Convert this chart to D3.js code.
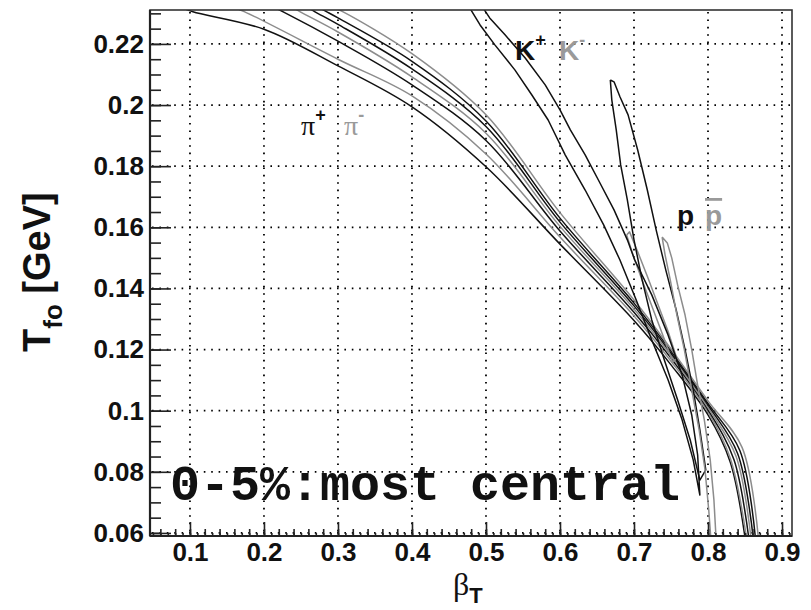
<!DOCTYPE html>
<html><head><meta charset="utf-8">
<script src="https://cdn.jsdelivr.net/npm/d3@7"></script>
<style>body{margin:0;background:#fff}svg{display:block}</style>
</head><body>
<svg id="chart" width="811" height="610"></svg>
<script>
// ---------- tick data ----------
const xTicks = [0.1,0.2,0.3,0.4,0.5,0.6,0.7,0.8,0.9];
const xTickLabels = ["0.1","0.2","0.3","0.4","0.5","0.6","0.7","0.8","0.9"];
const yTicks = [0.06,0.08,0.10,0.12,0.14,0.16,0.18,0.20,0.22];
const yTickLabels = ["0.06","0.08","0.1","0.12","0.14","0.16","0.18","0.2","0.22"];

// ---------- contour lines [beta_T, T_fo] ----------
const piLine1 = [[0.09,0.2318],[0.104,0.2305],[0.2,0.2248],[0.3,0.2128],[0.4,0.1994],[0.5,0.1798],[0.6,0.1545],[0.7,0.1295],[0.75,0.1150],[0.8,0.0986],[0.83,0.0832],[0.85,0.0585]];
const piLine2 = [[0.16,0.2318],[0.174,0.2305],[0.3,0.2150],[0.4,0.2030],[0.5,0.1840],[0.6,0.1568],[0.7,0.1310],[0.75,0.1162],[0.8,0.0995],[0.83,0.0845],[0.852,0.0585]];
const piLine3 = [[0.215,0.2318],[0.226,0.2305],[0.3,0.2209],[0.4,0.2066],[0.5,0.1884],[0.6,0.1588],[0.7,0.1322],[0.75,0.1172],[0.8,0.1003],[0.835,0.0840],[0.855,0.0585]];
const piLine4 = [[0.24,0.2318],[0.249,0.2305],[0.3,0.2239],[0.4,0.2092],[0.5,0.1908],[0.6,0.1603],[0.7,0.1333],[0.75,0.1180],[0.8,0.1010],[0.838,0.0850],[0.858,0.0585]];
const piLine5 = [[0.26,0.2318],[0.269,0.2305],[0.3,0.2264],[0.4,0.2118],[0.5,0.1930],[0.6,0.1617],[0.7,0.1343],[0.75,0.1188],[0.8,0.1018],[0.84,0.0860],[0.861,0.0585]];
const piLine6 = [[0.275,0.2318],[0.285,0.2305],[0.3,0.2285],[0.4,0.2143],[0.5,0.1948],[0.6,0.1630],[0.7,0.1352],[0.75,0.1195],[0.8,0.1024],[0.843,0.0870],[0.864,0.0585]];
const piLine7 = [[0.295,0.2318],[0.307,0.2305],[0.4,0.2168],[0.5,0.1968],[0.6,0.1648],[0.7,0.1362],[0.75,0.1202],[0.8,0.1032],[0.846,0.0880],[0.868,0.0585]];

const kPlusContour = [[0.478,0.2318],[0.492,0.2262],[0.512,0.2197],[0.539,0.2115],[0.562,0.2033],[0.584,0.1951],[0.607,0.1837],[0.634,0.1722],[0.659,0.1608],[0.681,0.1493],[0.703,0.1362],[0.724,0.1231],[0.746,0.1101],[0.765,0.0970],[0.780,0.0839],[0.789,0.0724],
  [0.786,0.0855],[0.778,0.0986],[0.765,0.1117],[0.746,0.1248],[0.724,0.1379],[0.701,0.1493],[0.691,0.1559],[0.673,0.1657],[0.654,0.1745],[0.634,0.1837],[0.614,0.1919],[0.600,0.1984],[0.580,0.2066],[0.553,0.2154],[0.526,0.2229],[0.505,0.2285],[0.496,0.2318]];
const kMinusContour = [[0.690,0.1575],[0.700,0.1500],[0.712,0.1420],[0.726,0.1330],[0.740,0.1240],[0.752,0.1160],[0.758,0.1170],[0.746,0.1260],[0.732,0.1350],[0.718,0.1440],[0.705,0.1520],[0.694,0.1585],[0.690,0.1575]];

const pContour = [[0.668,0.2082],[0.670,0.2017],[0.676,0.1919],[0.682,0.1804],[0.691,0.1690],[0.700,0.1559],[0.711,0.1428],[0.724,0.1297],[0.741,0.1166],[0.759,0.1035],[0.776,0.0904],[0.789,0.0773],
  [0.797,0.0806],[0.789,0.0937],[0.780,0.1068],[0.769,0.1200],[0.757,0.1330],[0.743,0.1460],[0.730,0.1591],[0.718,0.1722],[0.705,0.1853],[0.692,0.1968],[0.681,0.2027],[0.673,0.2076],[0.668,0.2082]];

const pbarContour = [[0.738,0.1568],[0.742,0.1510],[0.749,0.1428],[0.758,0.1313],[0.768,0.1200],[0.778,0.1068],[0.788,0.0937],[0.796,0.0806],[0.801,0.0675],[0.804,0.0577],
  [0.811,0.0577],[0.808,0.0708],[0.803,0.0839],[0.795,0.0970],[0.786,0.1084],[0.778,0.1200],[0.769,0.1313],[0.759,0.1411],[0.751,0.1500],[0.745,0.1549],[0.738,0.1568]];

const BLACK = "#111", GRAY = "#8c8c8c", GRAYTXT = "#9a9a9a";
const series = [
  {pts: piLine1, color: BLACK, smooth: true},
  {pts: piLine2, color: GRAY, smooth: true},
  {pts: piLine3, color: BLACK, smooth: true},
  {pts: piLine4, color: GRAY, smooth: true},
  {pts: piLine5, color: BLACK, smooth: true},
  {pts: piLine6, color: BLACK, smooth: true},
  {pts: piLine7, color: GRAY, smooth: true},
  {pts: kMinusContour, color: GRAY, smooth: false},
  {pts: kPlusContour, color: BLACK, smooth: false},
  {pts: pContour, color: BLACK, smooth: false},
  {pts: pbarContour, color: GRAY, smooth: false}
];

// ---------- layout ----------
const L = 150, T = 10, R = 792, B = 536;
const svg = d3.select("#chart");
const x = d3.scaleLinear().domain([0.046, 0.9135]).range([L, R]);
const y = d3.scaleLinear().domain([0.059, 0.2311]).range([B, T]);

svg.append("defs").append("clipPath").attr("id","clip")
  .append("rect").attr("x",L).attr("y",T).attr("width",R-L).attr("height",B-T);

// dotted grid
const gridG = svg.append("g").attr("class","grid");
xTicks.forEach(v => {
  gridG.append("line").attr("x1",x(v)).attr("x2",x(v)).attr("y1",T+2).attr("y2",B)
    .attr("stroke","#000").attr("stroke-width",1.8).attr("stroke-dasharray","1.6,5.8").attr("fill","none");
});
yTicks.forEach(v => {
  gridG.append("line").attr("x1",L+2).attr("x2",R).attr("y1",y(v)).attr("y2",y(v))
    .attr("stroke","#000").attr("stroke-width",1.8).attr("stroke-dasharray","1.6,5.8").attr("fill","none");
});

// curves
const lineSmooth = d3.line().x(d=>x(d[0])).y(d=>y(d[1])).curve(d3.curveCatmullRom.alpha(0.5));
const lineStraight = d3.line().x(d=>x(d[0])).y(d=>y(d[1]));
svg.append("g").attr("clip-path","url(#clip)")
  .selectAll("path").data(series).join("path")
  .attr("d",d=>(d.smooth?lineSmooth:lineStraight)(d.pts))
  .attr("fill","none").attr("stroke",d=>d.color).attr("stroke-width",1.5)
  .attr("stroke-linejoin","round");

// frame
svg.append("rect").attr("x",L).attr("y",T).attr("width",R-L).attr("height",B-T)
  .attr("fill","none").attr("stroke","#333").attr("stroke-width",1.6);

// axes
const fontSans = "'Liberation Sans', Arial, Helvetica, sans-serif";
const yMinor = d3.range(12,47).map(i=>+(i*0.005).toFixed(3));
const xMinor2 = d3.range(3,46).map(i=>+(i*0.02).toFixed(2));
const xMinor1 = d3.range(5,92).map(i=>+(i*0.01).toFixed(2));

function styleAxis(g){
  g.select(".domain").remove();
  g.selectAll(".tick line").attr("stroke","#222").attr("stroke-width",1.6);
}
svg.append("g").attr("transform",`translate(${L},0)`)
  .call(d3.axisLeft(y).tickValues(yMinor).tickFormat("").tickSize(-11).tickSizeOuter(0)).call(styleAxis);
svg.append("g").attr("transform",`translate(0,${B})`)
  .call(d3.axisBottom(x).tickValues(xMinor1).tickFormat("").tickSize(-3).tickSizeOuter(0)).call(styleAxis);
svg.append("g").attr("transform",`translate(0,${B})`)
  .call(d3.axisBottom(x).tickValues(xMinor2).tickFormat("").tickSize(-7).tickSizeOuter(0)).call(styleAxis);

const yAx = svg.append("g").attr("transform",`translate(${L},0)`)
  .call(d3.axisLeft(y).tickValues(yTicks).tickFormat((d,i)=>yTickLabels[i]).tickSize(-21).tickPadding(6).tickSizeOuter(0));
styleAxis(yAx);
yAx.selectAll("text").attr("font-family",fontSans).attr("font-weight","bold").attr("font-size",26).attr("fill","#111");

const xAx = svg.append("g").attr("transform",`translate(0,${B})`)
  .call(d3.axisBottom(x).tickValues(xTicks).tickFormat((d,i)=>xTickLabels[i]).tickSize(-14).tickPadding(7).tickSizeOuter(0));
styleAxis(xAx);
xAx.selectAll("text").attr("font-family",fontSans).attr("font-weight","bold").attr("font-size",26).attr("fill","#111");

// axis lines (left and bottom, thicker)
svg.append("line").attr("x1",L).attr("x2",L).attr("y1",T).attr("y2",B).attr("stroke","#222").attr("stroke-width",2.2);
svg.append("line").attr("x1",L).attr("x2",R).attr("y1",B).attr("y2",B).attr("stroke","#222").attr("stroke-width",2.2);

// y title
const yt = svg.append("text").attr("transform","translate(50,352) rotate(-90)")
  .attr("font-family",fontSans).attr("font-weight","bold").attr("fill","#111");
yt.append("tspan").attr("font-size",38).text("T");
yt.append("tspan").attr("font-size",26).attr("dy",12).text("fo");
yt.append("tspan").attr("font-size",38).attr("dy",-12).text(" [GeV]");

// x title
const xt = svg.append("text").attr("x",453).attr("y",595).attr("fill","#111");
xt.append("tspan").attr("font-family","'Liberation Serif','Times New Roman',serif").attr("font-size",32).text("β");
xt.append("tspan").attr("font-family",fontSans).attr("font-weight","bold").attr("font-size",22).attr("dy",8).text("T");

// species labels
const serif = "'Liberation Serif','Times New Roman',serif";
function label(xp, yp, main, sup, color, fam, size, bold){
  const t = svg.append("text").attr("x",xp).attr("y",yp).attr("fill",color)
    .attr("font-family",fam).attr("font-size",size).attr("font-weight",bold?"bold":"normal");
  t.append("tspan").text(main);
  if (sup) t.append("tspan").attr("font-family",fontSans).attr("font-weight","bold")
    .attr("font-size",18).attr("dy",-14).text(sup);
  return t;
}
label(301,135,"π","+",BLACK,serif,28,false);
label(344,135,"π","-",GRAYTXT,serif,28,false);
label(515,60,"K","+",BLACK,fontSans,28,true);
label(559,60,"K","-",GRAYTXT,fontSans,28,true);
label(677,225,"p",null,BLACK,fontSans,28,true);
svg.append("text").attr("x",705).attr("y",225).attr("fill",GRAYTXT)
  .attr("font-family",fontSans).attr("font-size",28).attr("font-weight","bold")
  .style("text-decoration","overline").text("p");

// centrality caption
svg.append("text").attr("x",170).attr("y",500)
  .attr("font-family","'Liberation Mono','Courier New',monospace").attr("font-weight","bold")
  .attr("font-size",50).attr("fill","#111").text("0-5%:most central");
</script>
</body></html>
